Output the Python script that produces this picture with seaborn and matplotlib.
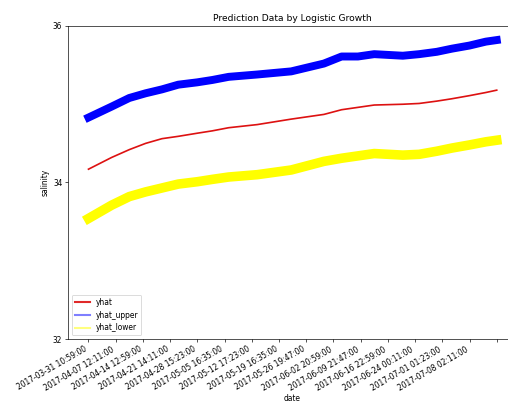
"""
Prediction Data by Logistic Growth - yhat / yhat_upper / yhat_lower
"""

import pandas as pd
import matplotlib.pyplot as plt
import seaborn as sns

# ============================================
# 数据
# ============================================

# x 位置，以刻度间隔为单位（0 = 2017-03-31 10:59:00）
step = [0, 0.85, 1.5, 2.1, 2.7, 3.3, 4.0, 4.55, 5.15, 6.2, 7.45,
        8.65, 9.3, 9.9, 10.5, 11.55, 12.15, 12.8, 13.35, 14.0, 14.6, 15.0]

yhat = [34.17, 34.32, 34.42, 34.50, 34.56, 34.59, 34.63, 34.66, 34.70, 34.74, 34.81,
        34.87, 34.93, 34.96, 34.99, 35.00, 35.01, 35.04, 35.07, 35.11, 35.15, 35.18]

yhat_upper = [34.83, 34.97, 35.08, 35.14, 35.19, 35.25, 35.28, 35.31, 35.35, 35.38, 35.42,
              35.52, 35.61, 35.61, 35.64, 35.62, 35.64, 35.67, 35.71, 35.75, 35.80, 35.82]

yhat_lower = [33.54, 33.71, 33.82, 33.88, 33.93, 33.98, 34.01, 34.04, 34.07, 34.10, 34.16,
              34.27, 34.31, 34.34, 34.37, 34.35, 34.36, 34.40, 34.44, 34.48, 34.52, 34.54]

tick_labels = [
    '2017-03-31 10:59:00', '2017-04-07 12:11:00', '2017-04-14 12:59:00',
    '2017-04-21 14:11:00', '2017-04-28 15:23:00', '2017-05-05 16:35:00',
    '2017-05-12 17:23:00', '2017-05-19 16:35:00', '2017-05-26 19:47:00',
    '2017-06-02 20:59:00', '2017-06-09 21:47:00', '2017-06-16 22:59:00',
    '2017-06-24 00:11:00', '2017-07-01 01:23:00', '2017-07-08 02:11:00', '',
]
y_ticks = [32, 34, 36]

df = pd.DataFrame({'step': step, 'yhat': yhat,
                   'yhat_upper': yhat_upper, 'yhat_lower': yhat_lower})

# ============================================
# 绘图
# ============================================
fig = plt.figure(figsize=(508 / 60, 406 / 60), dpi=60)
ax = fig.add_axes([0.134, 0.165, 0.884, 0.771])

sns.lineplot(data=df, x='step', y='yhat_upper', ax=ax, color='blue', lw=9.5, label='yhat_upper')
sns.lineplot(data=df, x='step', y='yhat', ax=ax, color='#dd1111', lw=2, label='yhat')
sns.lineplot(data=df, x='step', y='yhat_lower', ax=ax, color='yellow', lw=11.5, label='yhat_lower')

ax.set_ylim(32, 36)
ax.set_yticks(y_ticks)
ax.set_xticks(range(len(tick_labels)))
ax.set_xticklabels(tick_labels, rotation=30, ha='right')
ax.tick_params(labelsize=9)
ax.set_xlabel('date', fontsize=9, labelpad=2)
ax.set_ylabel('salinity', fontsize=9)
ax.set_title('Prediction Data by Logistic Growth', fontsize=11)

# 图例顺序：yhat, yhat_upper, yhat_lower；颜色带透明度
handles, labels = ax.get_legend_handles_labels()
order = [labels.index(n) for n in ['yhat', 'yhat_upper', 'yhat_lower']]
leg = ax.legend([handles[i] for i in order], [labels[i] for i in order],
                loc='lower left', fontsize=9)
for line, a in zip(leg.get_lines(), [0.9, 0.5, 0.5]):
    line.set_linewidth(2.5)
    line.set_alpha(a)

fig.savefig('out.png', dpi=60)
